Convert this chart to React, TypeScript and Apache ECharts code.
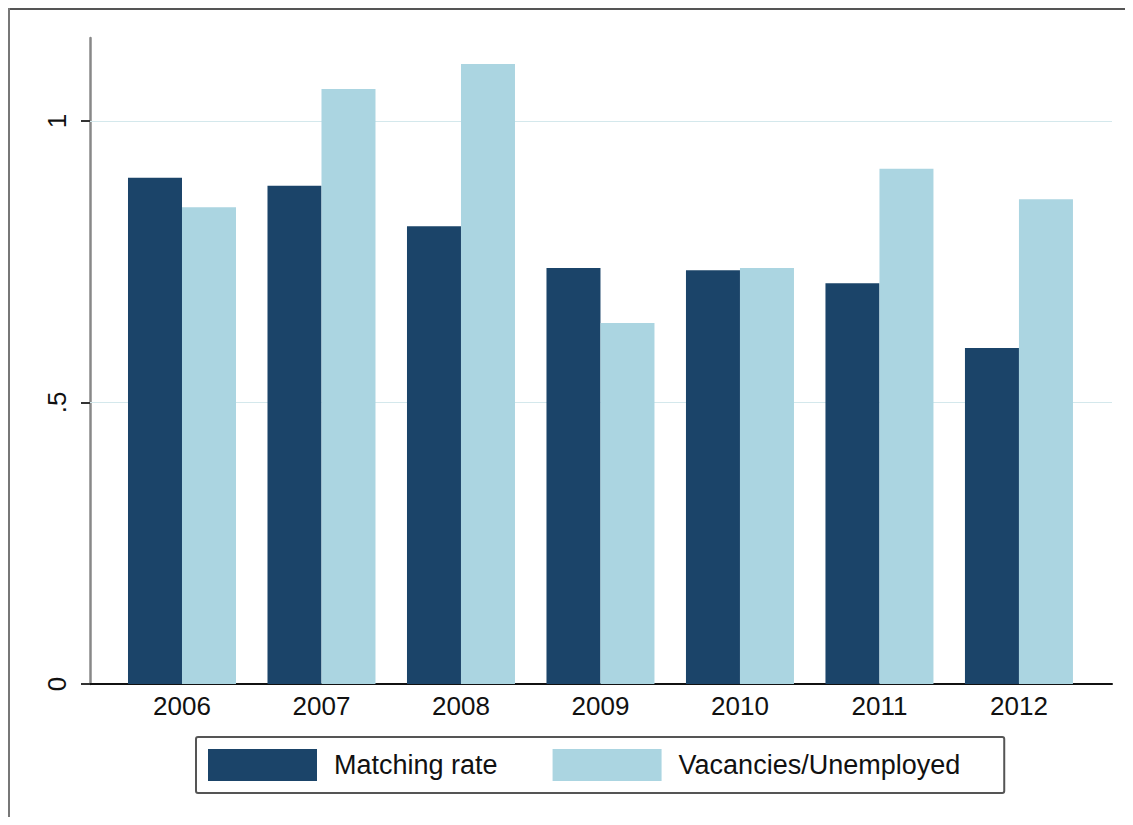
import React, { useEffect, useRef } from "react";
import * as echarts from "echarts";

const years = ["2006", "2007", "2008", "2009", "2010", "2011", "2012"];
const matchingRate = [0.899, 0.885, 0.813, 0.739, 0.735, 0.712, 0.597];
const vacanciesUnemployed = [0.847, 1.057, 1.101, 0.641, 0.739, 0.915, 0.861];
const yTicks = [0, 0.5, 1];
const yTickLabels = ["0", ".5", "1"];
const gridValues = [0.5, 1];

const FONT = "'Liberation Sans', Arial, Helvetica, sans-serif";

export default function App() {
  const ref = useRef<HTMLDivElement>(null);
  useEffect(() => {
    if (!ref.current) return;
    const chart = echarts.init(ref.current, null, { renderer: "svg" });
    const idx = years.map((_, i) => i);
    chart.setOption({
      animation: false,
      backgroundColor: "#ffffff",
      grid: { left: 82, right: 13, top: 30, bottom: 133, outerBoundsMode: "none" },
      xAxis: {
        type: "value",
        min: -0.6595,
        max: 6.667,
        axisLine: { show: true, onZero: false, lineStyle: { color: "#111", width: 2 } },
        axisTick: { show: false },
        splitLine: { show: false },
        axisLabel: {
          customValues: idx,
          formatter: (v: number) => years[Math.round(v)] ?? "",
          color: "#111",
          fontFamily: FONT,
          fontSize: 26,
          margin: 9,
        },
      },
      yAxis: {
        type: "value",
        min: 0,
        max: 1.1474,
        axisLine: { show: true, onZero: false, lineStyle: { color: "#888", width: 2.5 } },
        axisTick: { show: true, customValues: yTicks, length: 9, lineStyle: { color: "#333", width: 2 } },
        splitLine: { show: false },
        axisLabel: {
          customValues: yTicks,
          formatter: (v: number) => {
            const i = yTicks.findIndex((t) => Math.abs(t - v) < 1e-6);
            return i >= 0 ? yTickLabels[i] : "";
          },
          rotate: 90,
          color: "#111",
          fontFamily: FONT,
          fontSize: 26,
          margin: 20,
        },
      },
      legend: {
        left: 188,
        top: 729,
        orient: "horizontal",
        itemWidth: 109,
        itemHeight: 32,
        itemGap: 55,
        padding: [12, 44, 12, 12],
        borderColor: "#555",
        borderWidth: 2,
        borderRadius: 2,
        icon: "rect",
        textStyle: { color: "#111", fontFamily: FONT, fontSize: 27, padding: [0, 0, 0, 12] },
        data: ["Matching rate", "Vacancies/Unemployed"],
      },
      graphic: [
        { type: "line", shape: { x1: 0, y1: 1, x2: 1117, y2: 1 }, style: { stroke: "#555", lineWidth: 2 } },
        { type: "line", shape: { x1: 1, y1: 0, x2: 1, y2: 809 }, style: { stroke: "#777", lineWidth: 2 } },
      ],
      series: [
        {
          name: "Matching rate",
          type: "bar",
          barWidth: 54,
          barGap: "0%",
          itemStyle: { color: "#1b4469" },
          data: matchingRate.map((v, i) => [i, v]),
          markLine: {
            silent: true,
            z: 1,
            symbol: ["none", "none"],
            label: { show: false },
            lineStyle: { color: "#d4e8ec", width: 1, type: "solid" },
            data: gridValues.map((v) => ({ yAxis: v })),
          },
          z: 2,
        },
        {
          name: "Vacancies/Unemployed",
          type: "bar",
          barWidth: 54,
          barGap: "0%",
          itemStyle: { color: "#abd5e1" },
          data: vacanciesUnemployed.map((v, i) => [i, v]),
          z: 2,
        },
      ],
    });
    return () => chart.dispose();
  }, []);
  return <div ref={ref} style={{ width: 1117, height: 809 }} />;
}
